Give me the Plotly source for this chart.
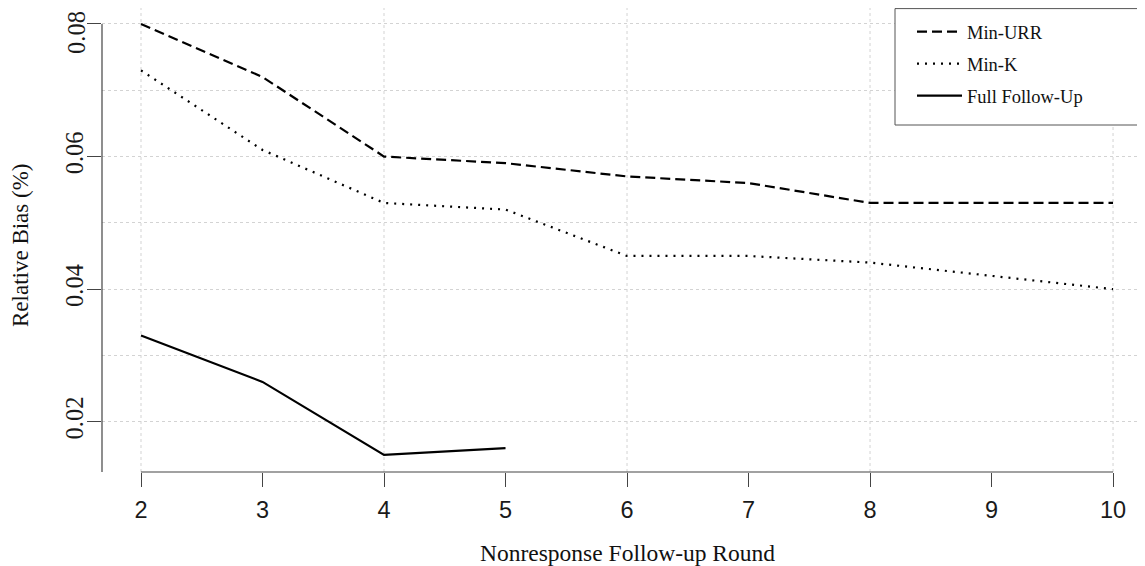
import plotly.graph_objects as go

rounds = [2, 3, 4, 5, 6, 7, 8, 9, 10]
min_urr = [0.080, 0.072, 0.060, 0.059, 0.057, 0.056, 0.053, 0.053, 0.053]
min_k = [0.073, 0.061, 0.053, 0.052, 0.045, 0.045, 0.044, 0.042, 0.040]
full_rounds = [2, 3, 4, 5]
full_follow = [0.033, 0.026, 0.015, 0.016]

x_ticks = [2, 3, 4, 5, 6, 7, 8, 9, 10]
x_grid = [2, 4, 6, 8, 10]
y_ticks = [0.02, 0.04, 0.06, 0.08]
y_ticktext = ["0.02", "0.04", "0.06", "0.08"]

x_range = [1.679, 10.263]
y_range = [0.01241, 0.08241]

SERIF = "Liberation Serif, Times New Roman, serif"
SANS = "Liberation Sans, Arial, sans-serif"
AXC = "#444444"
GRIDC = "#d3d3d3"

# the page body adds an 8px offset; figure coords = page coords - OFF
OFF = 8
W, H = 1145 - OFF, 566 - OFF
ML, MR, MT, MB = 102 - OFF, 0, 0, 94
PW, PH = W - ML - MR, H - MT - MB


def px(xp):  # page x -> paper x
    return (xp - OFF - ML) / PW


def py(yp):  # page y -> paper y
    return (H - MB - (yp - OFF)) / PH


fig = go.Figure()
fig.add_trace(go.Scatter(x=rounds, y=min_urr, mode="lines", name="Min-URR", legendgroup="a",
                         line=dict(color="black", width=2.2, dash="10px,5px")))
fig.add_trace(go.Scatter(x=rounds, y=min_k, mode="lines", name="Min-K", legendgroup="b",
                         line=dict(color="black", width=2.2, dash="2px,6px")))
fig.add_trace(go.Scatter(x=full_rounds, y=full_follow, mode="lines", name="Full Follow-Up", legendgroup="c",
                         line=dict(color="black", width=2.2)))

shapes = []
for gx in x_grid:
    shapes.append(dict(type="line", xref="x", yref="paper", x0=gx, x1=gx, y0=0, y1=1,
                       line=dict(color=GRIDC, width=1, dash="dot"), layer="below"))
# axis lines (R style)
shapes.append(dict(type="line", xref="x", yref="paper", x0=x_ticks[0], x1=x_ticks[-1], y0=0, y1=0,
                   line=dict(color=AXC, width=1.2)))
shapes.append(dict(type="line", xref="paper", yref="y", x0=0, x1=0, y0=y_range[0], y1=y_ticks[-1],
                   line=dict(color=AXC, width=1.2)))
# legend frame (extends past right edge as in the reference)
shapes.append(dict(type="rect", xref="paper", yref="paper",
                   x0=px(895), x1=1.05, y0=py(125), y1=py(8.6),
                   line=dict(color="#555", width=1), fillcolor="white", layer="above"))

# the top tick label sits a little lower (kept inside the page), as in the reference
axis_ticktext = y_ticktext[:-1] + [""]

fig.update_layout(
    width=W, height=H,
    margin=dict(l=ML, r=MR, t=MT, b=MB),
    plot_bgcolor="white", paper_bgcolor="white",
    shapes=shapes,
    xaxis=dict(range=x_range, tickvals=x_ticks, ticktext=[str(v) for v in x_ticks],
               showgrid=False, zeroline=False, showline=False, automargin=False,
               ticks="outside", ticklen=14, tickwidth=1.2, tickcolor=AXC,
               tickfont=dict(family=SANS, size=23.5, color="#1a1a1a"),
               ticklabelstandoff=3, ticklabeloverflow="allow"),
    yaxis=dict(range=y_range, tickvals=y_ticks, ticktext=axis_ticktext,
               showgrid=True, gridcolor=GRIDC, griddash="dot", gridwidth=1,
               minor=dict(dtick=0.01, tick0=0.0, showgrid=True, gridcolor=GRIDC, griddash="dot", ticks=""),
               zeroline=False, showline=False, automargin=False,
               ticks="outside", ticklen=14, tickwidth=1.2, tickcolor=AXC,
               tickangle=-90,
               tickfont=dict(family=SERIF, size=24.5, color="#1a1a1a"),
               ticklabelstandoff=-6, ticklabeloverflow="allow"),
    annotations=[
        dict(text=y_ticktext[-1], xref="paper", yref="y", textangle=-90,
             x=px(77), y=y_ticks[-1], yshift=-9, xanchor="center", yanchor="middle",
             showarrow=False, font=dict(family=SERIF, size=24.5, color="#1a1a1a")),
        dict(text="Nonresponse Follow-up Round", xref="paper", yref="paper",
             x=px(627), y=py(553), xanchor="center", yanchor="middle",
             showarrow=False, font=dict(family=SERIF, size=23.5, color="#111")),
        dict(text="Relative Bias (%)", xref="paper", yref="paper", textangle=-90,
             x=px(20), y=py(245), xanchor="center", yanchor="middle",
             showarrow=False, font=dict(family=SERIF, size=23, color="#111")),
    ],
    legend=dict(x=px(912), y=py(13), xanchor="left", yanchor="top",
                borderwidth=0, bgcolor="rgba(0,0,0,0)",
                font=dict(family=SERIF, size=18.5, color="#111"),
                itemwidth=45, tracegroupgap=5),
    showlegend=True,
)

fig.write_html("out.html")
